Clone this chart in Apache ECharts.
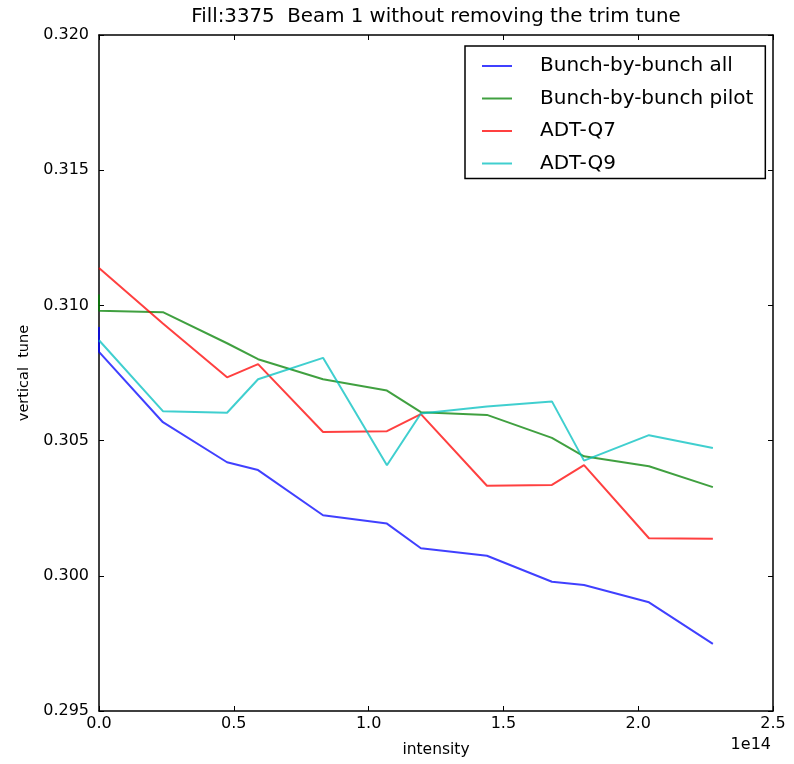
<!DOCTYPE html>
<html>
<head>
<meta charset="utf-8">
<script src="https://cdn.jsdelivr.net/npm/echarts@6/dist/echarts.min.js"></script>
<style>
  html, body { margin: 0; padding: 0; background: #fff; }
  #chart { width: 794px; height: 764px; }
</style>
</head>
<body>
<div id="chart"></div>
<script>
// Beam intensity (units of 1e14) at each measurement
const intensity = [0, 0.237, 0.475, 0.590, 0.831, 1.068, 1.194, 1.439, 1.680, 1.799, 2.040, 2.277];

// First reading at zero intensity, before the scan starts
const bbbAllStart = 0.3092;
const bbbPilotStart = 0.3104;

// Vertical tune per method
const bbbAll   = [0.30828, 0.30568, 0.30420, 0.30391, 0.30224, 0.30193, 0.30102, 0.30074, 0.29978, 0.29966, 0.29902, 0.29748];
const bbbPilot = [0.30980, 0.30975, 0.30860, 0.30801, 0.30727, 0.30685, 0.30605, 0.30595, 0.30510, 0.30442, 0.30405, 0.30328];
const adtQ7    = [0.31138, 0.30933, 0.30734, 0.30783, 0.30532, 0.30535, 0.30598, 0.30333, 0.30336, 0.30409, 0.30139, 0.30137];
const adtQ9    = [0.30871, 0.30609, 0.30603, 0.30727, 0.30806, 0.30409, 0.30600, 0.30626, 0.30645, 0.30426, 0.30520, 0.30473];

const xTicks = [0, 0.5, 1.0, 1.5, 2.0, 2.5];
const yTicks = [0.295, 0.300, 0.305, 0.310, 0.315, 0.320];

const seriesNames = ['Bunch-by-bunch all', 'Bunch-by-bunch pilot', 'ADT-Q7', 'ADT-Q9'];
const seriesColors = ['rgba(0,0,255,0.75)', 'rgba(0,128,0,0.75)', 'rgba(255,0,0,0.75)', 'rgba(0,191,191,0.75)'];

function pairs(xs, ys) { return xs.map((x, i) => [x, ys[i]]); }

const seriesData = [
  [[0, bbbAllStart]].concat(pairs(intensity, bbbAll)),
  [[0, bbbPilotStart]].concat(pairs(intensity, bbbPilot)),
  pairs(intensity, adtQ7),
  pairs(intensity, adtQ9)
];

const FONT = '"DejaVu Sans", sans-serif';
const chart = echarts.init(document.getElementById('chart'), null, { renderer: 'canvas' });

const axisLine = { show: true, onZero: false, lineStyle: { color: '#000', width: 1.5 } };
const tickIn = { show: true, inside: true, length: 5, lineStyle: { color: '#000', width: 1 } };

chart.setOption({
  animation: false,
  backgroundColor: '#fff',
  grid: { left: 99, right: 21, top: 35, bottom: 53, containLabel: false, outerBoundsMode: 'none' },
  graphic: [
    {
      type: 'text', x: 436, y: 17,
      style: { text: 'Fill:3375  Beam 1 without removing the trim tune',
               align: 'center', verticalAlign: 'middle', fill: '#000', font: '19.8px ' + FONT }
    },
    {
      type: 'text', x: 771, y: 745,
      style: { text: '1e14', align: 'right', verticalAlign: 'middle', fill: '#000', font: '16px ' + FONT }
    }
  ],
  legend: {
    orient: 'vertical',
    left: 465, top: 46,
    padding: [10, 12, 5, 17],
    backgroundColor: '#fff',
    borderColor: '#000', borderWidth: 1.5, borderRadius: 0,
    itemWidth: 30, itemHeight: 14, itemGap: 12.5,
    textStyle: { fontFamily: FONT, fontSize: 20, color: '#000', padding: [0, 0, 0, 23] },
    data: seriesNames.map(n => ({ name: n, icon: 'path://M0,0 L30,0 L30,2 L0,2 Z' }))
  },
  xAxis: [
    {
      type: 'value', min: 0, max: 2.5, interval: 0.5,
      axisLine, axisTick: tickIn, splitLine: { show: false },
      axisLabel: { color: '#000', fontFamily: FONT, fontSize: 16, margin: 5,
                   formatter: v => xTicks.includes(+v.toFixed(1)) ? v.toFixed(1) : '' },
      name: 'intensity', nameLocation: 'middle', nameGap: 31,
      nameTextStyle: { color: '#000', fontFamily: FONT, fontSize: 15.5 }
    },
    {
      type: 'value', position: 'top', min: 0, max: 2.5, interval: 0.5,
      axisLine, axisTick: tickIn, axisLabel: { show: false }, splitLine: { show: false }
    }
  ],
  yAxis: [
    {
      type: 'value', min: 0.295, max: 0.320, interval: 0.005,
      axisLine, axisTick: tickIn, splitLine: { show: false },
      axisLabel: { color: '#000', fontFamily: FONT, fontSize: 16, margin: 10,
                   formatter: v => yTicks.some(t => Math.abs(t - v) < 1e-9) ? v.toFixed(3) : '' },
      name: 'vertical  tune', nameLocation: 'middle', nameGap: 67, nameRotate: 90,
      nameTextStyle: { color: '#000', fontFamily: FONT, fontSize: 14.5 }
    },
    {
      type: 'value', position: 'right', min: 0.295, max: 0.320, interval: 0.005,
      axisLine, axisTick: tickIn, axisLabel: { show: false }, splitLine: { show: false }
    }
  ],
  series: seriesNames.map((name, i) => ({
    name, type: 'line', data: seriesData[i],
    xAxisIndex: 0, yAxisIndex: 0,
    symbol: 'none', smooth: false,
    color: seriesColors[i],
    lineStyle: { color: seriesColors[i], width: 2 }
  }))
});
</script>
</body>
</html>
